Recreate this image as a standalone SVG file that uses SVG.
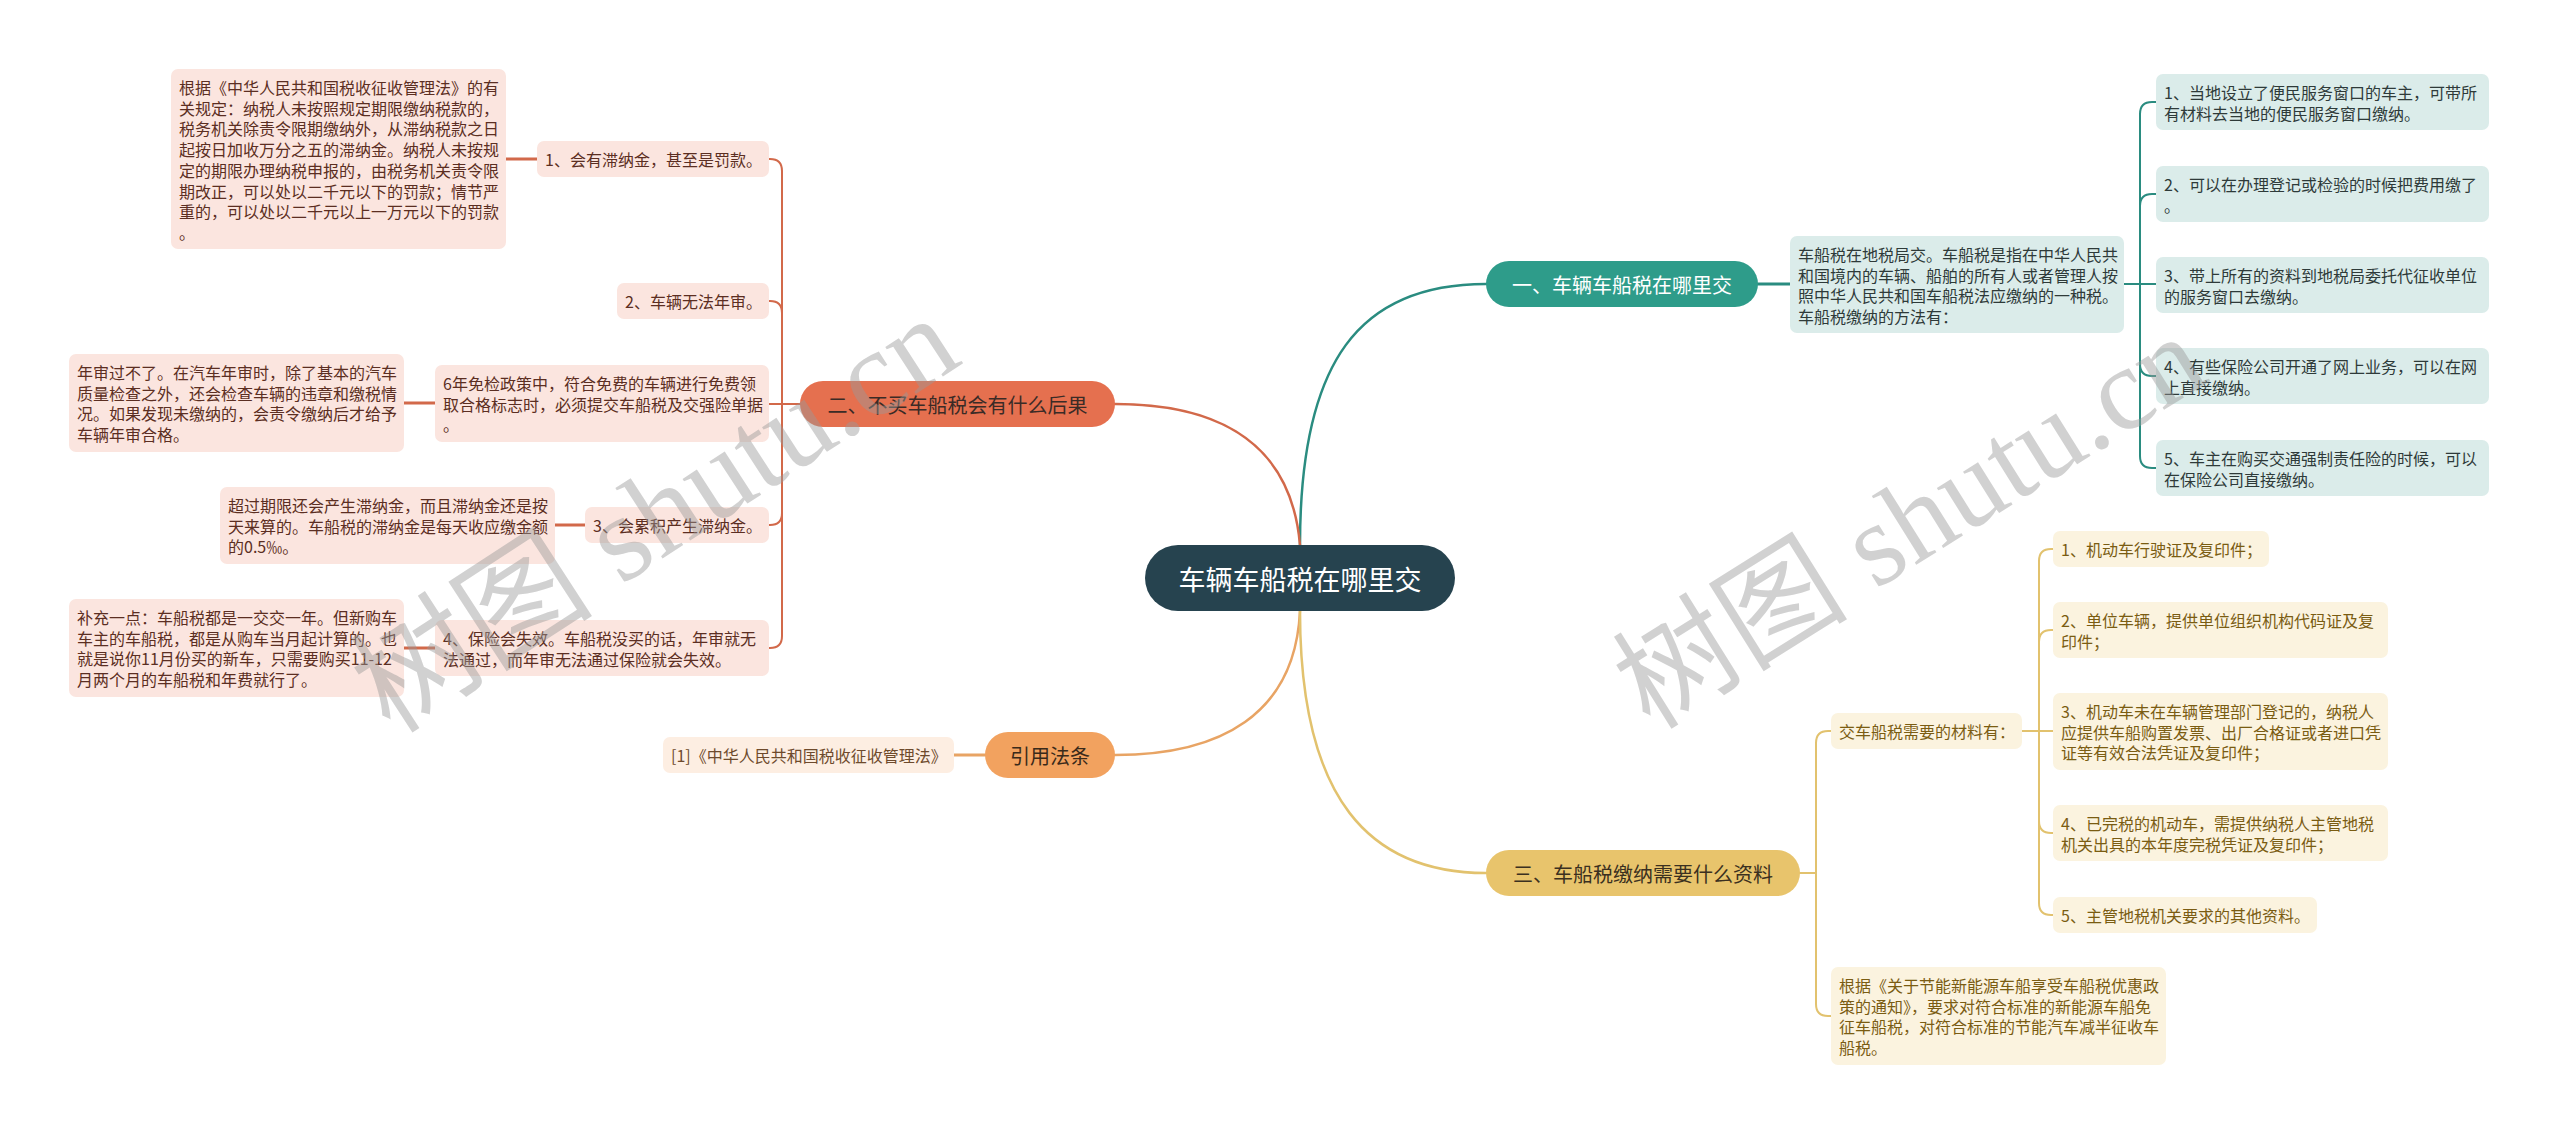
<svg xmlns="http://www.w3.org/2000/svg" width="2560" height="1134" viewBox="0 0 2560 1134">
<style>
text { font-family: "Noto Sans CJK SC", "Noto Sans", sans-serif; dominant-baseline: central; }
.t { font-size: 16px; }
.b { font-size: 20px; text-anchor: middle; }
.teal-c { fill: #dbecea; }
.teal-t { fill: #2e3a39; }
.coral-c { fill: #fbe5df; }
.coral-t { fill: #5b2e22; }
.yel-c { fill: #fbf3df; }
.yel-t { fill: #7a5c12; }
.org-c { fill: #fdeee2; }
.org-t { fill: #6e4a2c; }
.ln { fill: none; stroke-linecap: round; stroke-linejoin: round; }
.main { stroke-width: 2.5; }
.sub { stroke-width: 2; }
.stub { stroke-width: 3; }
.wm { font-family: "Liberation Serif", "Noto Sans CJK SC", serif; fill: #9a9a9a; fill-opacity: 0.45; text-anchor: middle; }
</style>

<g id="connectors">
  <path class="ln main" stroke="#2a8c80" d="M1300,545 C1300,360 1360,284 1486,284"/>
  <path class="ln main" stroke="#d2694a" d="M1300,545 C1290,430 1200,404 1115,404"/>
  <path class="ln main" stroke="#e8a464" d="M1300,611 C1295,715 1220,755 1115,755"/>
  <path class="ln main" stroke="#e2c26e" d="M1300,611 C1300,800 1370,873 1486,873"/>

  <path class="ln stub" stroke="#2a8c80" d="M1758,284 H1790"/>
  <path class="ln sub" stroke="#2a8c80" d="M2124,284 H2140 V114 Q2140,102 2152,102 H2156"/>
  <path class="ln sub" stroke="#2a8c80" d="M2124,284 H2140 V206 Q2140,194 2152,194 H2156"/>
  <path class="ln sub" stroke="#2a8c80" d="M2124,284 H2156"/>
  <path class="ln sub" stroke="#2a8c80" d="M2124,284 H2140 V364 Q2140,376 2152,376 H2156"/>
  <path class="ln sub" stroke="#2a8c80" d="M2124,284 H2140 V456 Q2140,468 2152,468 H2156"/>

  <path class="ln sub" stroke="#d2694a" d="M800,404 H782 V171 Q782,159 770,159 H769"/>
  <path class="ln sub" stroke="#d2694a" d="M800,404 H782 V313 Q782,301 770,301 H769"/>
  <path class="ln sub" stroke="#d2694a" d="M800,404 H769"/>
  <path class="ln sub" stroke="#d2694a" d="M800,404 H782 V513 Q782,525 770,525 H769"/>
  <path class="ln sub" stroke="#d2694a" d="M800,404 H782 V636 Q782,648 770,648 H769"/>
  <path class="ln stub" stroke="#d2694a" d="M506,159 H537"/>
  <path class="ln stub" stroke="#d2694a" d="M404,403 H435"/>
  <path class="ln stub" stroke="#d2694a" d="M555,525 H585"/>
  <path class="ln stub" stroke="#d2694a" d="M404,648 H435"/>

  <path class="ln stub" stroke="#e8a464" d="M954,755 H985"/>

  <path class="ln sub" stroke="#e2c26e" d="M1800,873 H1816 V743 Q1816,731 1828,731 H1831"/>
  <path class="ln sub" stroke="#e2c26e" d="M1800,873 H1816 V1004 Q1816,1016 1828,1016 H1831"/>
  <path class="ln sub" stroke="#e2c26e" d="M2022,731 H2039 V561 Q2039,549 2051,549 H2053"/>
  <path class="ln sub" stroke="#e2c26e" d="M2022,731 H2039 V642 Q2039,630 2051,630 H2053"/>
  <path class="ln sub" stroke="#e2c26e" d="M2022,731 H2053"/>
  <path class="ln sub" stroke="#e2c26e" d="M2022,731 H2039 V821 Q2039,833 2051,833 H2053"/>
  <path class="ln sub" stroke="#e2c26e" d="M2022,731 H2039 V903 Q2039,915 2051,915 H2053"/>
</g>

<g id="root">
  <rect x="1145" y="545" width="310" height="66" rx="33" fill="#26434f"/>
  <text x="1300" y="578" style="font-size:27px;text-anchor:middle" fill="#ffffff">车辆车船税在哪里交</text>
</g>

<g id="branch1">
  <rect x="1486" y="261" width="272" height="46" rx="23" fill="#2e9c8a"/>
  <text class="b" x="1622" y="284" fill="#ffffff">一、车辆车船税在哪里交</text>
</g>
<g id="branch2">
  <rect x="800" y="381" width="315" height="46" rx="23" fill="#e5704f"/>
  <text class="b" x="957.5" y="404" fill="#3b2b26">二、不买车船税会有什么后果</text>
</g>
<g id="branch-ref">
  <rect x="985" y="732" width="130" height="46" rx="23" fill="#f2a25f"/>
  <text class="b" x="1050" y="755" fill="#3a2a1a">引用法条</text>
</g>
<g id="branch3">
  <rect x="1486" y="850" width="314" height="46" rx="23" fill="#e8c46c"/>
  <text class="b" x="1643" y="873" fill="#3b3020">三、车船税缴纳需要什么资料</text>
</g>

<g id="b1-desc">
  <rect class="teal-c" x="1790" y="236" width="334" height="97" rx="7"/>
  <text class="t teal-t" x="1798" y="254"><tspan x="1798" dy="0">车船税在地税局交。车船税是指在中华人民共</tspan><tspan x="1798" dy="20.7">和国境内的车辆、船舶的所有人或者管理人按</tspan><tspan x="1798" dy="20.7">照中华人民共和国车船税法应缴纳的一种税。</tspan><tspan x="1798" dy="20.7">车船税缴纳的方法有：</tspan></text>
</g>
<g id="b1-c1">
  <rect class="teal-c" x="2156" y="74" width="333" height="56" rx="7"/>
  <text class="t teal-t" x="2164" y="92"><tspan x="2164" dy="0">1、当地设立了便民服务窗口的车主，可带所</tspan><tspan x="2164" dy="20.7">有材料去当地的便民服务窗口缴纳。</tspan></text>
</g>
<g id="b1-c2">
  <rect class="teal-c" x="2156" y="166" width="333" height="56" rx="7"/>
  <text class="t teal-t" x="2164" y="184"><tspan x="2164" dy="0">2、可以在办理登记或检验的时候把费用缴了</tspan><tspan x="2164" dy="20.7">。</tspan></text>
</g>
<g id="b1-c3">
  <rect class="teal-c" x="2156" y="257" width="333" height="56" rx="7"/>
  <text class="t teal-t" x="2164" y="275"><tspan x="2164" dy="0">3、带上所有的资料到地税局委托代征收单位</tspan><tspan x="2164" dy="20.7">的服务窗口去缴纳。</tspan></text>
</g>
<g id="b1-c4">
  <rect class="teal-c" x="2156" y="348" width="333" height="56" rx="7"/>
  <text class="t teal-t" x="2164" y="366"><tspan x="2164" dy="0">4、有些保险公司开通了网上业务，可以在网</tspan><tspan x="2164" dy="20.7">上直接缴纳。</tspan></text>
</g>
<g id="b1-c5">
  <rect class="teal-c" x="2156" y="440" width="333" height="56" rx="7"/>
  <text class="t teal-t" x="2164" y="458"><tspan x="2164" dy="0">5、车主在购买交通强制责任险的时候，可以</tspan><tspan x="2164" dy="20.7">在保险公司直接缴纳。</tspan></text>
</g>

<g id="b2-c1">
  <rect class="coral-c" x="537" y="141" width="232" height="36" rx="7"/>
  <text class="t coral-t" x="545" y="159">1、会有滞纳金，甚至是罚款。</text>
</g>
<g id="b2-c1-d">
  <rect class="coral-c" x="171" y="69" width="335" height="180" rx="7"/>
  <text class="t coral-t" x="179" y="87"><tspan x="179" dy="0">根据《中华人民共和国税收征收管理法》的有</tspan><tspan x="179" dy="20.7">关规定：纳税人未按照规定期限缴纳税款的，</tspan><tspan x="179" dy="20.7">税务机关除责令限期缴纳外，从滞纳税款之日</tspan><tspan x="179" dy="20.7">起按日加收万分之五的滞纳金。纳税人未按规</tspan><tspan x="179" dy="20.7">定的期限办理纳税申报的，由税务机关责令限</tspan><tspan x="179" dy="20.7">期改正，可以处以二千元以下的罚款；情节严</tspan><tspan x="179" dy="20.7">重的，可以处以二千元以上一万元以下的罚款</tspan><tspan x="179" dy="20.7">。</tspan></text>
</g>
<g id="b2-c2">
  <rect class="coral-c" x="617" y="283" width="152" height="36" rx="7"/>
  <text class="t coral-t" x="625" y="301">2、车辆无法年审。</text>
</g>
<g id="b2-c3">
  <rect class="coral-c" x="435" y="365" width="334" height="77" rx="7"/>
  <text class="t coral-t" x="443" y="383"><tspan x="443" dy="0">6年免检政策中，符合免费的车辆进行免费领</tspan><tspan x="443" dy="20.7">取合格标志时，必须提交车船税及交强险单据</tspan><tspan x="443" dy="20.7">。</tspan></text>
</g>
<g id="b2-c3-d">
  <rect class="coral-c" x="69" y="354" width="335" height="98" rx="7"/>
  <text class="t coral-t" x="77" y="372"><tspan x="77" dy="0">年审过不了。在汽车年审时，除了基本的汽车</tspan><tspan x="77" dy="20.7">质量检查之外，还会检查车辆的违章和缴税情</tspan><tspan x="77" dy="20.7">况。如果发现未缴纳的，会责令缴纳后才给予</tspan><tspan x="77" dy="20.7">车辆年审合格。</tspan></text>
</g>
<g id="b2-c4">
  <rect class="coral-c" x="585" y="507" width="184" height="36" rx="7"/>
  <text class="t coral-t" x="593" y="525">3、会累积产生滞纳金。</text>
</g>
<g id="b2-c4-d">
  <rect class="coral-c" x="220" y="487" width="335" height="77" rx="7"/>
  <text class="t coral-t" x="228" y="505"><tspan x="228" dy="0">超过期限还会产生滞纳金，而且滞纳金还是按</tspan><tspan x="228" dy="20.7">天来算的。车船税的滞纳金是每天收应缴金额</tspan><tspan x="228" dy="20.7">的0.5‰。</tspan></text>
</g>
<g id="b2-c5">
  <rect class="coral-c" x="435" y="620" width="334" height="56" rx="7"/>
  <text class="t coral-t" x="443" y="638"><tspan x="443" dy="0">4、保险会失效。车船税没买的话，年审就无</tspan><tspan x="443" dy="20.7">法通过，而年审无法通过保险就会失效。</tspan></text>
</g>
<g id="b2-c5-d">
  <rect class="coral-c" x="69" y="599" width="335" height="98" rx="7"/>
  <text class="t coral-t" x="77" y="617"><tspan x="77" dy="0">补充一点：车船税都是一交交一年。但新购车</tspan><tspan x="77" dy="20.7">车主的车船税，都是从购车当月起计算的。也</tspan><tspan x="77" dy="20.7">就是说你11月份买的新车，只需要购买11-12</tspan><tspan x="77" dy="20.7">月两个月的车船税和年费就行了。</tspan></text>
</g>

<g id="ref-c1">
  <rect class="org-c" x="663" y="737" width="291" height="36" rx="7"/>
  <text class="t org-t" x="671" y="755">[1]《中华人民共和国税收征收管理法》</text>
</g>

<g id="b3-materials">
  <rect class="yel-c" x="1831" y="713" width="191" height="36" rx="7"/>
  <text class="t yel-t" x="1839" y="731">交车船税需要的材料有：</text>
</g>
<g id="b3-m1">
  <rect class="yel-c" x="2053" y="531" width="216" height="36" rx="7"/>
  <text class="t yel-t" x="2061" y="549">1、机动车行驶证及复印件；</text>
</g>
<g id="b3-m2">
  <rect class="yel-c" x="2053" y="602" width="335" height="56" rx="7"/>
  <text class="t yel-t" x="2061" y="620"><tspan x="2061" dy="0">2、单位车辆，提供单位组织机构代码证及复</tspan><tspan x="2061" dy="20.7">印件；</tspan></text>
</g>
<g id="b3-m3">
  <rect class="yel-c" x="2053" y="693" width="335" height="77" rx="7"/>
  <text class="t yel-t" x="2061" y="711"><tspan x="2061" dy="0">3、机动车未在车辆管理部门登记的，纳税人</tspan><tspan x="2061" dy="20.7">应提供车船购置发票、出厂合格证或者进口凭</tspan><tspan x="2061" dy="20.7">证等有效合法凭证及复印件；</tspan></text>
</g>
<g id="b3-m4">
  <rect class="yel-c" x="2053" y="805" width="335" height="56" rx="7"/>
  <text class="t yel-t" x="2061" y="823"><tspan x="2061" dy="0">4、已完税的机动车，需提供纳税人主管地税</tspan><tspan x="2061" dy="20.7">机关出具的本年度完税凭证及复印件；</tspan></text>
</g>
<g id="b3-m5">
  <rect class="yel-c" x="2053" y="897" width="264" height="36" rx="7"/>
  <text class="t yel-t" x="2061" y="915">5、主管地税机关要求的其他资料。</text>
</g>
<g id="b3-desc">
  <rect class="yel-c" x="1831" y="967" width="335" height="98" rx="7"/>
  <text class="t yel-t" x="1839" y="985"><tspan x="1839" dy="0">根据《关于节能新能源车船享受车船税优惠政</tspan><tspan x="1839" dy="20.7">策的通知》，要求对符合标准的新能源车船免</tspan><tspan x="1839" dy="20.7">征车船税，对符合标准的节能汽车减半征收车</tspan><tspan x="1839" dy="20.7">船税。</tspan></text>
</g>

<g id="watermarks">
  <text class="wm" x="655" y="514" style="font-size:122px" transform="rotate(-33 655 514)">树图 shutu.cn</text>
  <text class="wm" x="1910" y="522" style="font-size:118px" transform="rotate(-32 1910 522)">树图 shutu.cn</text>
</g>
</svg>
